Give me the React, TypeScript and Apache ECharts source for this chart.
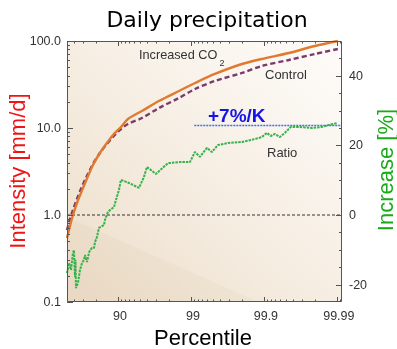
import React, { useEffect, useRef } from 'react';
import * as echarts from 'echarts';

// ---- Data ----
const intensityPercentiles = [50, 54.5, 58.6, 63.5, 67.8, 72.5, 78, 82.3, 85.8, 88.6, 90.9, 92.7, 95.3, 97.25, 98.54, 99.12, 99.53, 99.8, 99.893, 99.9545, 99.98, 99.9903];
const increasedCO2 = [0.544, 0.747, 1.0, 1.374, 1.79, 2.46, 3.755, 5.16, 6.72, 8.53, 10.27, 12.69, 15.68, 20.43, 26.63, 32.9, 41.8, 54.4, 62.1, 72.8, 87.6, 100];
const control = [0.672, 0.9, 1.142, 1.527, 1.99, 2.663, 3.857, 5.16, 6.55, 8.09, 9.74, 11.12, 13.03, 16.98, 22.13, 28.07, 34.7, 42.9, 51.6, 60.5, 70.9, 80.9];

const ratioPercentiles = [50.0, 53.06, 55.94, 58.62, 59.9, 61.14, 61.75, 62.35, 64.66, 66.82, 68.85, 70.76, 71.66, 73.39, 75.02, 75.8, 77.28, 78.67, 79.33, 80.59, 81.78, 84.44, 84.92, 86.28, 87.12, 88.65, 89.34, 90.3, 90.89, 92.93, 94.84, 95.59, 95.99, 96.98, 97.93, 98.584, 98.967, 99.118, 99.247, 99.396, 99.484, 99.573, 99.689, 99.8, 99.854, 99.8934, 99.9089, 99.9197, 99.9293, 99.9396, 99.9484, 99.9573, 99.9658, 99.978, 99.9839, 99.98828, 99.98999];
const ratioValues = [-16.7, -13.8, -15.8, -10.9, -10.1, -17.8, -12.9, -21.0, -19.5, -15.8, -13.8, -12.9, -11.5, -13.5, -10.9, -10.1, -9.5, -9.5, -7.8, -6.3, -3.7, -2.9, -1.4, 0.9, 1.4, 2.3, 4.3, 7.2, 10.1, 9.2, 7.8, 10.9, 13.8, 11.8, 14.9, 15.2, 15.2, 18.1, 16.7, 19.3, 18.1, 20.1, 20.7, 21.0, 21.6, 22.4, 23.6, 22.7, 23.3, 22.4, 23.6, 25.3, 25.3, 25.0, 25.3, 26.1, 26.4];

const sevenPctStart = 99.1;
const sevenPctValue = 25.7;
const referenceValue = 0;

const X_MIN_PERCENTILE = 50;
const X_MAX_PERCENTILE = 99.9915;

// ticks
const xMajorPercentiles = [90, 99, 99.9, 99.99];
const xMinorPercentiles = [60, 70, 80, 91, 92, 93, 94, 95, 96, 97, 98, 99.1, 99.2, 99.3, 99.4, 99.5, 99.6, 99.7, 99.8, 99.91, 99.92, 99.93, 99.94, 99.95, 99.96, 99.97, 99.98, 99.991];
const yMajorValues = [0.1, 1, 10, 100];
const yMinorValues = [0.2, 0.3, 0.4, 0.5, 0.6, 0.7, 0.8, 0.9, 2, 3, 4, 5, 6, 7, 8, 9, 20, 30, 40, 50, 60, 70, 80, 90];
const rightMajorValues = [-20, 0, 20, 40];
const rightMinorValues = [-15, -10, -5, 5, 10, 15, 25, 30, 35, 45];

const FONT = "'Liberation Sans', Arial, sans-serif";
const TICK_COLOR = '#555';

const exc = (p: number) => +(100 - p).toPrecision(8);

function xTickSeries(values: number[], len: number) {
  return {
    type: 'custom',
    xAxisIndex: 0,
    yAxisIndex: 0,
    silent: true,
    z: 5,
    data: values.map((p) => [exc(p), 1]),
    renderItem: (params: any, api: any) => {
      const pt = api.coord([api.value(0), api.value(1)]);
      const cs = params.coordSys;
      const x = Math.round(pt[0]) + 0.5;
      const st = { stroke: TICK_COLOR, lineWidth: 1 };
      return {
        type: 'group',
        children: [
          { type: 'line', shape: { x1: x, y1: cs.y + cs.height, x2: x, y2: cs.y + cs.height - len }, style: st },
          { type: 'line', shape: { x1: x, y1: cs.y, x2: x, y2: cs.y + len }, style: st },
        ],
      };
    },
  };
}

function yTickSeries(values: number[], len: number, axisIndex: number) {
  return {
    type: 'custom',
    xAxisIndex: 0,
    yAxisIndex: axisIndex,
    silent: true,
    z: 5,
    data: values.map((v) => [10, v]),
    renderItem: (params: any, api: any) => {
      const pt = api.coord([api.value(0), api.value(1)]);
      const cs = params.coordSys;
      const y = Math.round(pt[1]) + 0.5;
      const st = { stroke: TICK_COLOR, lineWidth: 1 };
      const x0 = axisIndex === 0 ? cs.x : cs.x + cs.width - len;
      return { type: 'line', shape: { x1: x0, y1: y, x2: x0 + len, y2: y }, style: st };
    },
  };
}

export default function App() {
  const ref = useRef<HTMLDivElement>(null);
  useEffect(() => {
    const chart = echarts.init(ref.current!, null, { renderer: 'svg' });
    const L = 67, T = 41, W = 275, H = 261;
    const option: any = {
      animation: false,
      grid: { left: L, top: T, width: W, height: H, show: false },
      xAxis: {
        type: 'log',
        logBase: 10,
        inverse: true,
        min: exc(X_MAX_PERCENTILE),
        max: exc(X_MIN_PERCENTILE),
        axisLine: { show: false },
        axisTick: { show: false },
        splitLine: { show: false },
        axisLabel: {
          margin: 7,
          color: '#333',
          fontFamily: FONT,
          fontSize: 12.5,
          padding: [0, 0, 0, 4],
          formatter: (v: number) => {
            const lg = Math.log10(v);
            if (Math.abs(lg - Math.round(lg)) > 1e-6) return '';
            const dec = Math.max(0, -Math.round(lg));
            const p = 100 - Math.pow(10, Math.round(lg));
            if (!xMajorPercentiles.some((m) => Math.abs(m - p) < 1e-6)) return '';
            return p.toFixed(dec);
          },
        },
      },
      yAxis: [
        {
          type: 'log',
          logBase: 10,
          min: 0.1,
          max: 100,
          position: 'left',
          axisLine: { show: false },
          axisTick: { show: false },
          splitLine: { show: false },
          axisLabel: {
            margin: 6,
            color: '#333',
            fontFamily: FONT,
            fontSize: 12.5,
            formatter: (v: number) => Number(v).toFixed(1),
          },
        },
        {
          type: 'value',
          min: -25,
          max: 50,
          interval: 5,
          position: 'right',
          axisLine: { show: false },
          axisTick: { show: false },
          splitLine: { show: false },
          axisLabel: {
            margin: 7,
            color: '#333',
            fontFamily: FONT,
            fontSize: 12.5,
            formatter: (v: number) => (rightMajorValues.includes(v) ? String(v) : ''),
          },
        },
      ],
      series: [
        {
          name: 'Reference',
          type: 'line',
          yAxisIndex: 1,
          data: [[exc(X_MIN_PERCENTILE), referenceValue], [exc(X_MAX_PERCENTILE), referenceValue]],
          symbol: 'none',
          lineStyle: { color: '#333', width: 1, type: [3, 2] },
          z: 3,
        },
        {
          name: '+7%/K',
          type: 'line',
          yAxisIndex: 1,
          data: [[exc(sevenPctStart), sevenPctValue], [exc(X_MAX_PERCENTILE), sevenPctValue]],
          symbol: 'none',
          lineStyle: { color: '#3d6ff0', width: 1.5, type: [2, 1] },
          z: 3,
        },
        {
          name: 'Ratio',
          type: 'line',
          yAxisIndex: 1,
          data: ratioPercentiles.map((p, i) => [exc(p), ratioValues[i]]),
          symbol: 'none',
          lineStyle: { color: '#35b24a', width: 2, type: [2.5, 1] },
          z: 4,
        },
        {
          name: 'Control',
          type: 'line',
          yAxisIndex: 0,
          smooth: 0.3,
          data: intensityPercentiles.map((p, i) => [exc(p), control[i]]),
          symbol: 'none',
          lineStyle: { color: '#7b3a6c', width: 2.4, type: [5, 3] },
          z: 4,
        },
        {
          name: 'Increased CO2',
          type: 'line',
          yAxisIndex: 0,
          smooth: 0.3,
          data: intensityPercentiles.map((p, i) => [exc(p), increasedCO2[i]]),
          symbol: 'none',
          lineStyle: { color: '#e07a30', width: 2.4 },
          z: 4,
        },
        xTickSeries(xMajorPercentiles, 5),
        xTickSeries(xMinorPercentiles, 2.5),
        yTickSeries(yMajorValues, 6, 0),
        yTickSeries(yMinorValues, 3, 0),
        yTickSeries(rightMajorValues, 6, 1),
        yTickSeries(rightMinorValues, 3, 1),
      ],
      graphic: [
        {
          type: 'rect',
          z: -1,
          silent: true,
          shape: { x: L, y: T, width: W, height: H },
          style: {
            fill: {
              type: 'linear', x: 1, y: 0, x2: 0, y2: 1,
              colorStops: [
                { offset: 0, color: '#fefcfa' },
                { offset: 0.5, color: '#f6eee3' },
                { offset: 1, color: '#ecddc8' },
              ],
            },
          },
        },
        {
          type: 'polygon',
          z: -1,
          silent: true,
          shape: { points: [[L, 217], [L, T + H], [258, T + H]] },
          style: { fill: 'rgba(190,150,100,0.06)' },
        },
        {
          type: 'rect',
          z: 50,
          silent: true,
          shape: { x: L + 0.5, y: T + 0.5, width: W - 1, height: H - 1 },
          style: { fill: 'none', stroke: '#555', lineWidth: 1 },
        },
        {
          type: 'text', z: 60, x: 207, y: 19,
          style: { text: 'Daily precipitation', fontFamily: "'DejaVu Sans', sans-serif", fontSize: 22, fill: '#000', textAlign: 'center', textVerticalAlign: 'middle' },
        },
        {
          type: 'text', z: 60, x: 203, y: 337,
          style: { text: 'Percentile', fontFamily: FONT, fontSize: 22, fill: '#000', textAlign: 'center', textVerticalAlign: 'middle' },
        },
        {
          type: 'text', z: 60, x: 17, y: 171, rotation: Math.PI / 2,
          style: { text: 'Intensity [mm/d]', fontFamily: FONT, fontSize: 22, fill: '#f01414', textAlign: 'center', textVerticalAlign: 'middle' },
        },
        {
          type: 'text', z: 60, x: 385, y: 170, rotation: Math.PI / 2,
          style: { text: 'Increase [%]', fontFamily: FONT, fontSize: 22, fill: '#1aaa1a', textAlign: 'center', textVerticalAlign: 'middle' },
        },
        {
          type: 'text', z: 60, x: 139, y: 55,
          style: { text: 'Increased CO', fontFamily: FONT, fontSize: 12.7, fill: '#333', textAlign: 'left', textVerticalAlign: 'middle' },
        },
        {
          type: 'text', z: 60, x: 219.5, y: 62.5,
          style: { text: '2', fontFamily: FONT, fontSize: 9, fill: '#333', textAlign: 'left', textVerticalAlign: 'middle' },
        },
        {
          type: 'text', z: 60, x: 265, y: 74.5,
          style: { text: 'Control', fontFamily: FONT, fontSize: 13, fill: '#333', textAlign: 'left', textVerticalAlign: 'middle' },
        },
        {
          type: 'text', z: 60, x: 267, y: 152,
          style: { text: 'Ratio', fontFamily: FONT, fontSize: 13, fill: '#333', textAlign: 'left', textVerticalAlign: 'middle' },
        },
        {
          type: 'text', z: 60, x: 208, y: 115,
          style: { text: '+7%/K', fontFamily: FONT, fontSize: 19, fontWeight: 'bold', fill: '#1414e6', textAlign: 'left', textVerticalAlign: 'middle' },
        },
      ],
    };
    chart.setOption(option);
    return () => chart.dispose();
  }, []);
  return <div ref={ref} style={{ position: 'fixed', left: 0, top: 0, width: 397, height: 349 }} />;
}
